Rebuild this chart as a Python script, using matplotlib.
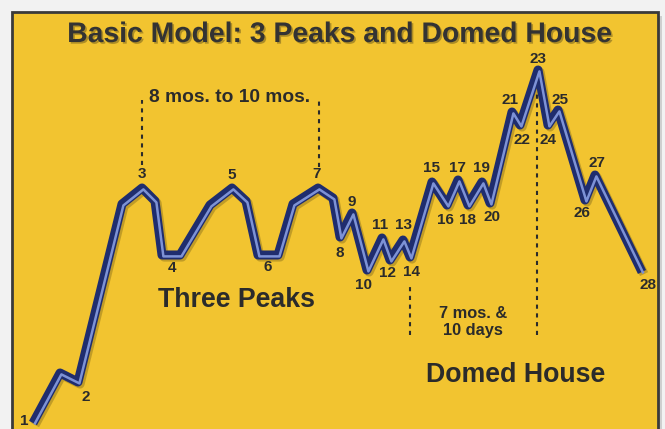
import matplotlib
matplotlib.use("Agg")
import matplotlib.pyplot as plt
import matplotlib.patheffects as pe
import matplotlib.transforms as mtransforms
from matplotlib.patches import Rectangle

plt.rcParams["font.family"] = ["Liberation Sans", "DejaVu Sans"]

# wave vertices (time position, price level); labelled turning points + unlabelled legs
wave_x = [33, 60, 78, 122, 142, 155, 162, 180, 210, 232, 246, 258, 278, 293,
          318, 333, 340, 352, 367, 382, 390, 403, 410, 432, 447, 458, 468,
          482, 490, 512, 520, 538, 548, 558, 585, 595, 642]
wave_y = [6, 56, 47, 225, 241, 228, 174, 174, 224, 241, 228, 174, 174, 225,
          241, 231, 192, 216, 159, 191, 169, 189, 172, 247, 224, 249, 224,
          247, 226, 317, 304, 359, 304, 319, 229, 254, 157]
# which vertex each number belongs to
label_text = [str(i) for i in range(1, 29)]
label_vertex = [0, 2, 4, 6, 9, 11, 14, 16, 17, 18, 19, 20, 21, 22, 23, 24,
                25, 26, 27, 28, 29, 30, 31, 32, 33, 34, 35, 36]
# label offset from its vertex, in pixels
label_offset = [(-9, 2), (8, -15), (0, 14), (10, -13), (0, 13), (10, -12),
                (-1, 14), (0, -16), (0, 11), (-4, -15), (-2, 13), (-2, -13),
                (0, 15), (2, -15), (0, 14), (-2, -15), (-1, 12), (0, -15),
                (0, 14), (2, -14), (-2, 12), (2, -15), (0, 11), (0, -15),
                (2, 10), (-3, -13), (2, 12), (6, -13)]

# dotted time-span guides: x, top level, bottom level
guide_x = [142, 319, 410, 537]
guide_top = [329, 329, 142, 336]
guide_bot = [264, 262, 94, 94]

NAVY = "#1f2d6e"
LIGHT = "#7d92d6"
INK = "#2b2b2b"

fig = plt.figure(figsize=(6.65, 4.29), dpi=100, facecolor="#f2f2f2")
ax = fig.add_axes([0, 0, 1, 1])
ax.set_xlim(0, 665)
ax.set_ylim(0, 429)
ax.axis("off")

# yellow panel with a soft shadow
ax.add_patch(Rectangle((16, -20), 646, 433, facecolor="#cfcfcf", edgecolor="none", zorder=0))
ax.add_patch(Rectangle((12, -20), 646, 437, facecolor="#f2c430",
                       edgecolor="#3a3a3a", lw=2, zorder=1))

for x, top, bot in zip(guide_x, guide_top, guide_bot):
    ax.plot([x, x], [bot, top], color=INK, lw=1.5, ls=(0, (2, 2.2)), zorder=2)

ax.plot(wave_x, wave_y, color=NAVY, lw=6.5, solid_joinstyle="round",
        solid_capstyle="butt", zorder=3,
        path_effects=[pe.SimpleLineShadow(offset=(1.5, -1.5), alpha=0.2), pe.Normal()])
shift = mtransforms.offset_copy(ax.transData, fig=fig, x=1.4, y=-1.4, units="dots")
ax.plot(wave_x, wave_y, color=LIGHT, lw=1.8, solid_joinstyle="round",
        solid_capstyle="butt", transform=shift, zorder=4)

for txt, vi, (dx, dy) in zip(label_text, label_vertex, label_offset):
    ax.annotate(txt, (wave_x[vi], wave_y[vi]), xytext=(dx, dy),
                textcoords="offset pixels", ha="center", va="center",
                fontsize=11, fontweight="bold", color=INK, zorder=5)

big_fx = [pe.withSimplePatchShadow(offset=(1.2, -1.2), alpha=0.3)]
ax.text(340, 394, "Basic Model: 3 Peaks and Domed House", ha="center", va="center",
        fontsize=20.4, fontweight="bold", color="#333333", path_effects=big_fx)
ax.text(230, 332, "8 mos. to 10 mos.", ha="center", va="center",
        fontsize=13.8, fontweight="bold", color=INK)
ax.text(236, 129, "Three Peaks", ha="center", va="center",
        fontsize=19.3, fontweight="bold", color=INK)
ax.text(473, 107, "7 mos. &\n10 days", ha="center", va="center",
        fontsize=11.8, fontweight="bold", color=INK, linespacing=1.25)
ax.text(516, 54, "Domed House", ha="center", va="center",
        fontsize=19.3, fontweight="bold", color=INK)

fig.savefig("out.png", dpi=100, facecolor=fig.get_facecolor())
